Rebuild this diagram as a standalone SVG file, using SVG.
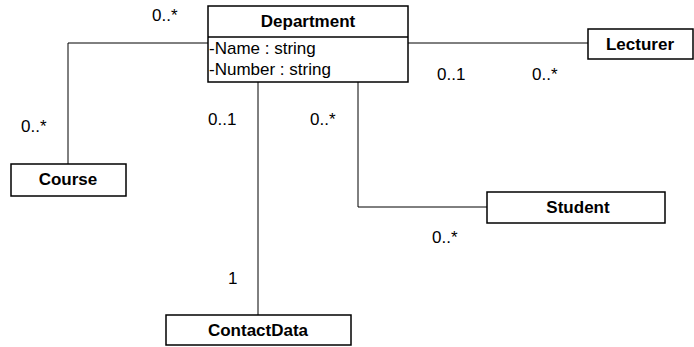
<svg xmlns="http://www.w3.org/2000/svg" width="694" height="347" viewBox="0 0 694 347">
<style>
.box{fill:#fff;stroke:#000;stroke-width:1.5}
.ln{fill:none;stroke:#000;stroke-width:1}
text{font-family:"Liberation Sans",Arial,sans-serif;font-size:17px;fill:#000}
.t{font-weight:bold;text-anchor:middle}
</style>
<rect width="694" height="347" fill="#fff"/>
<g id="connectors">
<polyline class="ln" points="208,43 68,43 68,164"/>
<line class="ln" x1="408" y1="43" x2="588" y2="43"/>
<line class="ln" x1="258" y1="82" x2="258" y2="315"/>
<polyline class="ln" points="358,82 358,207 487,207"/>
<text x="152" y="21">0..*</text>
<text x="21" y="132">0..*</text>
<text x="437" y="80">0..1</text>
<text x="532" y="80">0..*</text>
<text x="208" y="125">0..1</text>
<text x="310" y="125">0..*</text>
<text x="228" y="284">1</text>
<text x="432" y="243">0..*</text>
</g>
<g id="department">
<rect class="box" x="208" y="6" width="200" height="76"/>
<line class="box" x1="208" y1="37" x2="408" y2="37"/>
<text class="t" x="308" y="27">Department</text>
<text x="209" y="54">-Name : string</text>
<text x="209" y="75">-Number : string</text>
</g>
<g id="lecturer">
<rect class="box" x="588" y="29" width="105" height="30"/>
<text class="t" x="640" y="50">Lecturer</text>
</g>
<g id="course">
<rect class="box" x="11" y="164" width="115" height="32"/>
<text class="t" x="68" y="185">Course</text>
</g>
<g id="student">
<rect class="box" x="487" y="192" width="178" height="31"/>
<text class="t" x="578" y="213">Student</text>
</g>
<g id="contactdata">
<rect class="box" x="166" y="315" width="185" height="30"/>
<text class="t" x="258" y="336">ContactData</text>
</g>
</svg>
